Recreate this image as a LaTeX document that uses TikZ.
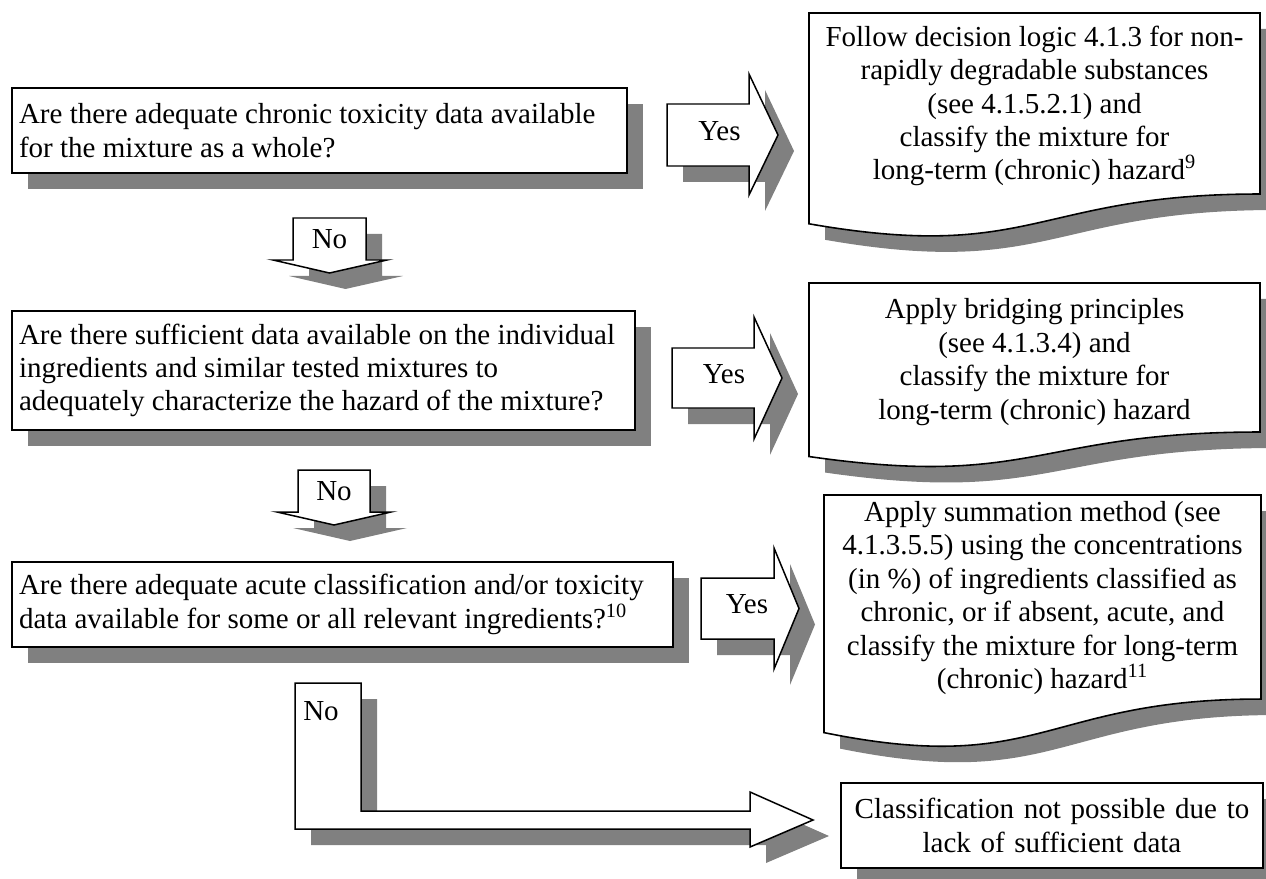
\documentclass[tikz,border=0pt]{standalone}
\usepackage{fontspec}
\setmainfont{Liberation Serif}
\usetikzlibrary{shadows}

\begin{document}
\begin{tikzpicture}[x=0.02cm,y=-0.02cm,
  every node/.style={font=\fontsize{16.5}{19}\selectfont},
  grayshadow/.style={drop shadow={shadow xshift=0.32cm,shadow yshift=-0.32cm,fill=gray,opacity=1}},
  qbox/.style={draw,line width=1.1pt,fill=white,grayshadow,align=flush left,inner xsep=0.14cm,minimum height=1.7cm},
  docshape/.style={draw,line width=0.9pt,fill=white,grayshadow},
  blockarrow/.style={draw,line width=0.85pt,fill=white,grayshadow,line join=miter}]

\useasboundingbox (0,0) rectangle (1266,878);

% draw the questions
\node[qbox,text width=12.02cm] (q1) at (319.5,130.5) {Are there adequate chronic toxicity data available\\for the mixture as a whole?};
\node[qbox,text width=12.18cm,minimum height=2.38cm] (q2) at (323.5,370.5) {Are there sufficient data available on the individual\\ingredients and similar tested mixtures to\\adequately characterize the hazard of the mixture?};
\node[qbox,text width=12.94cm] (q3) at (342.5,604.5) {Are there adequate acute classification and/or toxicity\\data available for some or all relevant ingredients?\textsuperscript{10}};
\node[qbox,text width=8.16cm,align=center] (stop) at (1052,825.5) {Classification not possible due to\\lack of sufficient data};

% draw the documents (wavy bottom)
\foreach \docLeft/\docRight/\docTop/\docHeight in {809/1260/13/225.7, 809/1260/283/185.8, 824/1261/495/254.4}
{
  \pgfmathsetmacro\docMid{(\docLeft+\docRight)/2}
  \draw[docshape] (\docLeft,\docTop) -- (\docRight,\docTop) -- (\docRight,{\docTop+0.802*\docHeight})
    .. controls (\docMid,{\docTop+0.802*\docHeight}) and (\docMid,{\docTop+1.108*\docHeight}) .. (\docLeft,{\docTop+0.934*\docHeight}) -- cycle;
}

\node[align=center] (d1) at (1034.5,106) {Follow decision logic 4.1.3 for non-\\rapidly degradable substances\\(see 4.1.5.2.1) and\\classify the mixture for\\long-term (chronic) hazard\textsuperscript{9}};
\node[align=center] (d2) at (1034.5,362) {Apply bridging principles\\(see 4.1.3.4) and\\classify the mixture for\\long-term (chronic) hazard};
\node[align=center] (d3) at (1042.5,598) {Apply summation method (see\\4.1.3.5.5) using the concentrations\\(in \%) of ingredients classified as\\chronic, or if absent, acute, and\\classify the mixture for long-term\\(chronic) hazard\textsuperscript{11}};

% draw the yes arrows
\foreach \aLeft/\aTop/\aBottom/\aHead/\hTop/\hBottom/\aTip [count=\ni] in {667/104/166/749/74/195/778, 672/348/408/754/317/439/782, 701/578/639/774/548/669/799}
{
  \pgfmathsetmacro\aMid{(\aTop+\aBottom)/2}
  \draw[blockarrow] (\aLeft,\aTop) -- (\aHead,\aTop) -- (\aHead,\hTop) -- (\aTip,\aMid) -- (\aHead,\hBottom) -- (\aHead,\aBottom) -- (\aLeft,\aBottom) -- cycle;
  \node (yes\ni) at ({(\aLeft+\aTip)/2-3},{\aMid-4}) {Yes};
}

% draw the no arrows
\foreach \aLeft/\aRight/\aTop/\wingY/\wingLeft/\wingRight/\tipY [count=\ni] in {293/366/218/260/273/387/273, 298/370/470/512/277/391/525}
{
  \pgfmathsetmacro\aMid{(\aLeft+\aRight)/2}
  \draw[blockarrow] (\aLeft,\aTop) -- (\aRight,\aTop) -- (\aRight,\wingY) -- (\wingRight,\wingY) -- (\aMid,\tipY) -- (\wingLeft,\wingY) -- (\aLeft,\wingY) -- cycle;
  \node (no\ni) at (\aMid,{(\aTop+\wingY)/2}) {No};
}

% last no goes round the corner
\draw[blockarrow] (295,683) -- (361,683) -- (361,811) -- (750,811) -- (750,792) -- (813,820) -- (750,847) -- (750,829) -- (295,829) -- cycle;
\node (no3) at (321,711) {No};

\end{tikzpicture}
\end{document}
